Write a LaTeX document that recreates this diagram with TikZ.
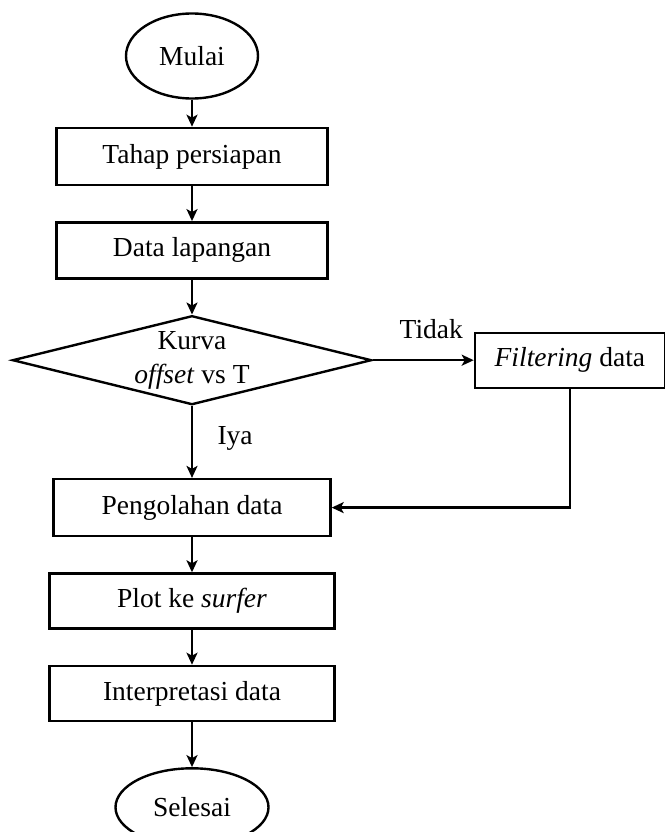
\documentclass[tikz,border=0pt]{standalone}
\usepackage{fontspec}
\setmainfont{Liberation Serif}
\usetikzlibrary{positioning, arrows.meta, shapes.geometric}

\begin{document}
\begin{tikzpicture}[x=1pt, y=-1pt, font=\fontsize{27.5}{34}\selectfont,
    proses/.style={draw, line width=2.4pt, minimum width=271pt, minimum height=56pt, align=center},
    terminal/.style={draw, ellipse, line width=2.4pt, inner sep=0pt},
    keputusan/.style={draw, diamond, aspect=4.03, line width=2.4pt, inner sep=0pt,
                      minimum width=359pt, minimum height=89pt, align=center},
    panah/.style={-{Stealth[length=12pt, width=11pt, inset=3pt]}, line width=2.4pt}]
    \useasboundingbox (0,0) rectangle (664,832);
    \node[terminal, minimum width=132pt, minimum height=85pt] (mulai) at (192,56) {Mulai};
    \node[proses, minimum height=57pt, below=27pt of mulai] (tahap) {Tahap persiapan};
    \node[proses, below=35pt of tahap] (lapangan) {Data lapangan};
    \node[keputusan, below=35pt of lapangan] (kurva) {Kurva\\\textit{offset} vs T};
    \node[proses, minimum width=190pt, minimum height=55pt, right=101pt of kurva] (filter)
      {\textit{Filtering} data};
    \node[proses, minimum width=277pt, minimum height=57pt, below=72pt of kurva] (olah)
      {Pengolahan data};
    \node[proses, minimum width=285pt, minimum height=55pt, below=35pt of olah] (plot)
      {Plot ke \textit{surfer}};
    \node[proses, minimum width=285pt, minimum height=55pt, below=35pt of plot] (interp)
      {Interpretasi data};
    \node[terminal, minimum width=153pt, minimum height=78pt, below=45pt of interp] (selesai)
      {Selesai};
    \draw[panah] (mulai) -- (tahap);
    \draw[panah] (tahap) -- (lapangan);
    \draw[panah] (lapangan) -- (kurva);
    \draw[panah] (kurva) -- node[above=17pt, pos=0.58] (tidak) {Tidak} (filter);
    \draw[panah] (kurva) -- node[right=21pt, pos=0.45] (iya) {Iya} (olah);
    \draw[panah] (filter.south) |- (olah.east);
    \draw[panah] (olah) -- (plot);
    \draw[panah] (plot) -- (interp);
    \draw[panah] (interp) -- (selesai);
  \end{tikzpicture}
\end{document}
